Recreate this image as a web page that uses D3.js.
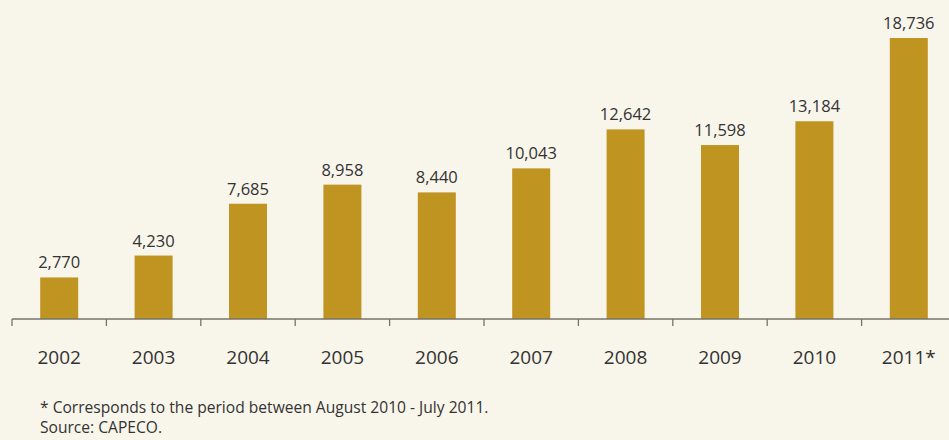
<!DOCTYPE html>
<html>
<head>
<meta charset="utf-8">
<script src="https://cdn.jsdelivr.net/npm/d3@7"></script>
<style>
  html, body { margin: 0; padding: 0; background: #f8f5ea; }
  svg { display: block; font-family: "Open Sans", "Noto Sans", sans-serif; }
</style>
</head>
<body>
<svg id="chart" width="949" height="440"></svg>
<script>
// Annual figures, 2002 to 2011
const years = ["2002", "2003", "2004", "2005", "2006", "2007", "2008", "2009", "2010", "2011*"];
const values = [2770, 4230, 7685, 8958, 8440, 10043, 12642, 11598, 13184, 18736];
const notes = [
  "* Corresponds to the period between August 2010 - July 2011.",
  "Source: CAPECO."
];

const svg = d3.select("#chart");
const W = 949, H = 440;

svg.append("rect").attr("width", W).attr("height", H).attr("fill", "#f8f5ea");

const baseY = 319;
const x = d3.scaleBand().domain(years).range([12, 956]).paddingInner(0.5975).paddingOuter(0.29875);
const y = d3.scaleLinear().domain([0, 18736]).range([baseY, 38]);

const fmt = d3.format(",");
const textColor = "#333333";

// bars
svg.append("g").selectAll("rect")
  .data(years)
  .join("rect")
  .attr("x", d => x(d))
  .attr("width", x.bandwidth())
  .attr("y", (d, i) => y(values[i]))
  .attr("height", (d, i) => baseY - y(values[i]))
  .attr("fill", "#bf9420");

// value labels
svg.append("g").selectAll("text")
  .data(years)
  .join("text")
  .attr("x", d => x(d) + x.bandwidth() / 2)
  .attr("y", (d, i) => y(values[i]) - 9)
  .attr("text-anchor", "middle")
  .attr("font-size", 16.5)
  .attr("fill", textColor)
  .text((d, i) => fmt(values[i]));

// category axis: baseline with ticks at band boundaries
const step = x.step();
const axisG = svg.append("g");
axisG.append("line")
  .attr("x1", 12).attr("x2", W)
  .attr("y1", baseY).attr("y2", baseY)
  .attr("stroke", "#77736a").attr("stroke-width", 1.6);
axisG.selectAll("line.tick")
  .data(years)
  .join("line")
  .attr("class", "tick")
  .attr("x1", d => x(d) - x.paddingOuter() * step)
  .attr("x2", d => x(d) - x.paddingOuter() * step)
  .attr("y1", baseY).attr("y2", baseY + 7)
  .attr("stroke", "#77736a").attr("stroke-width", 1.3);

axisG.selectAll("text")
  .data(years)
  .join("text")
  .attr("x", d => x(d) + x.bandwidth() / 2)
  .attr("y", 364)
  .attr("text-anchor", "middle")
  .attr("font-size", 19)
  .attr("fill", textColor)
  .text(d => d);

// footnotes
svg.append("g").selectAll("text")
  .data(notes)
  .join("text")
  .attr("x", 40)
  .attr("y", (d, i) => 413 + i * 20)
  .attr("font-size", 15.6)
  .attr("fill", textColor)
  .text(d => d);
</script>
</body>
</html>
